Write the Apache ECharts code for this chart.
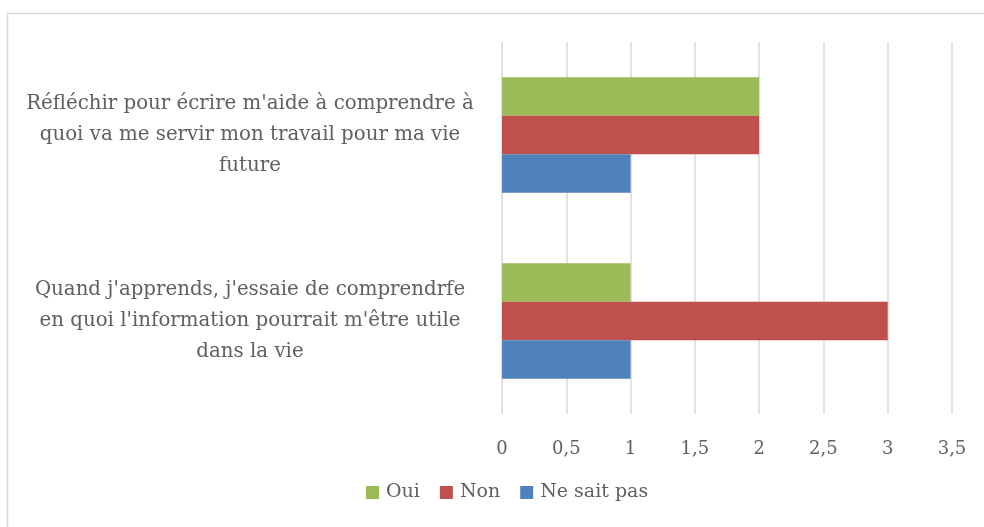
<!DOCTYPE html>
<html>
<head>
<meta charset="utf-8">
<script src="https://cdn.jsdelivr.net/npm/echarts@6/dist/echarts.min.js"></script>
<style>
  html, body { margin: 0; padding: 0; background: #fff; }
  #chart { width: 984px; height: 527px; }
</style>
</head>
<body>
<div id="chart"></div>
<script>
// données du graphique
const categories = [
  "Quand j'apprends, j'essaie de comprendrfe\nen quoi l'information pourrait m'être utile\ndans la vie",
  "Réfléchir pour écrire m'aide à comprendre à\nquoi va me servir mon travail pour ma vie\nfuture"
]
const oui = [1, 2]
const non = [3, 2]
const neSaitPas = [1, 1]

const font = "DejaVu Serif"
const textColor = "#606060"

const chart = echarts.init(document.getElementById("chart"))

const option = {
  animation: false,
  textStyle: { fontFamily: font },
  graphic: [
    {
      type: "rect",
      shape: { x: 7.5, y: 13.5, width: 1000, height: 600 },
      style: { fill: "none", stroke: "#d9d9d9", lineWidth: 1.5 },
      silent: true
    }
  ],
  grid: { left: 502, right: 32, top: 42, bottom: 113 },
  legend: {
    bottom: 20,
    left: 361,
    itemWidth: 13,
    itemHeight: 13,
    itemGap: 20,
    icon: "rect",
    data: ["Oui", "Non", "Ne sait pas"],
    textStyle: { fontFamily: font, fontSize: 19, color: textColor, padding: [0, 0, 0, 2] }
  },
  xAxis: {
    type: "value",
    min: 0,
    max: 3.5,
    interval: 0.5,
    axisLine: { show: false },
    axisTick: { show: false },
    splitLine: { lineStyle: { color: "#d9d9d9", width: 1.5 } },
    axisLabel: {
      margin: 26,
      fontFamily: font,
      fontSize: 18,
      color: textColor,
      formatter: (v) => String(v).replace(".", ",")
    }
  },
  yAxis: {
    type: "category",
    data: categories,
    axisLine: { show: false },
    axisTick: { show: false },
    axisLabel: {
      margin: 252,
      fontFamily: font,
      fontSize: 19.8,
      lineHeight: 31,
      color: textColor,
      align: "center"
    }
  },
  series: [
    {
      name: "Oui",
      type: "bar",
      data: oui,
      itemStyle: { color: "#9BBB59" },
      barGap: "0%",
      barCategoryGap: "38%"
    },
    {
      name: "Non",
      type: "bar",
      data: non,
      itemStyle: { color: "#C0504D" },
      barGap: "0%",
      barCategoryGap: "38%"
    },
    {
      name: "Ne sait pas",
      type: "bar",
      data: neSaitPas,
      itemStyle: { color: "#4F81BD" },
      barGap: "0%",
      barCategoryGap: "38%"
    }
  ]
}

chart.setOption(option)
</script>
</body>
</html>
